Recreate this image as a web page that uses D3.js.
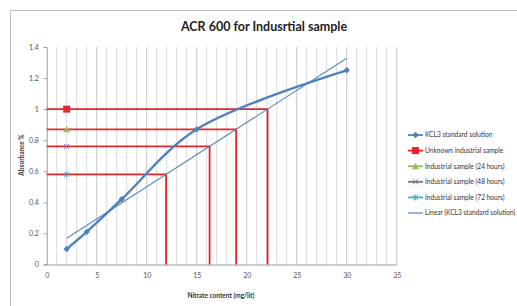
<!DOCTYPE html>
<html>
<head>
<meta charset="utf-8">
<script src="https://cdn.jsdelivr.net/npm/d3@7"></script>
<style>
  body { margin: 0; background: #fff; }
  text { font-family: Lato, "Open Sans", sans-serif; }
</style>
</head>
<body>
<script>
var width = 517,
    height = 306;

// KCL3 standard solution
var kclX = [2, 4, 7.5, 15, 30];
var kclY = [0.1, 0.21, 0.42, 0.87, 1.25];

// samples, all plotted at x = 2
var sampleNames = ["Unknown industrial sample", "Industrial sample (24 hours)",
                   "Industrial sample (48 hours)", "Industrial sample (72 hours)"];
var sampleY = [1.0, 0.87, 0.76, 0.58];
var sampleX = 2;

var xTicks = [0, 5, 10, 15, 20, 25, 30, 35];
var yTicks = [0, 0.2, 0.4, 0.6, 0.8, 1, 1.2, 1.4];

var legendNames = ["KCL3 standard solution", "Unknown industrial sample",
                   "Industrial sample (24 hours)", "Industrial sample (48 hours)",
                   "Industrial sample (72 hours)", "Linear (KCL3 standard solution)"];

var blue = "#4f81bd", red = "#e3262b";
var sampleColors = [red, "#9bbb59", "#8064a2", "#4bacc6"];
var sampleShapes = ["square", "triangle", "x", "star"];

var svg = d3.select("body").append("svg")
    .attr("width", width)
    .attr("height", height);

// outer chart border (left and top visible)
svg.append("rect")
    .attr("x", 10.5).attr("y", 10.5)
    .attr("width", 540).attr("height", 320)
    .attr("fill", "none")
    .attr("stroke", "#bdbdbd");

var x = d3.scaleLinear().domain([0, 35]).range([46.7, 396.7]);
var y = d3.scaleLinear().domain([0, 1.4]).range([264.5, 47]);

// vertical gridlines every unit
svg.append("g").selectAll("line")
    .data(d3.range(1, 36))
  .enter().append("line")
    .attr("x1", function(d) { return x(d); })
    .attr("x2", function(d) { return x(d); })
    .attr("y1", y(1.4)).attr("y2", y(0))
    .attr("stroke", function(d) { return d % 5 == 0 ? "#c8c8c8" : "#dadada"; })
    .attr("stroke-width", 1);

// y axis
var yAxis = svg.append("g")
    .attr("transform", "translate(" + x(0) + ",0)")
    .call(d3.axisLeft(y).tickValues(yTicks).tickSize(3).tickPadding(5)
      .tickFormat(function(d) { return d3.format("")(+d.toFixed(1)); }));
yAxis.select(".domain").attr("stroke", "#9a9a9a");
yAxis.selectAll(".tick line").attr("stroke", "#9a9a9a");
yAxis.selectAll("text").attr("fill", "#555").style("font-size", "7px");

// x axis
var xAxis = svg.append("g")
    .attr("transform", "translate(0," + y(0) + ")")
    .call(d3.axisBottom(x).tickValues(xTicks).tickSize(0).tickPadding(9));
xAxis.select(".domain").attr("stroke", "#9a9a9a");
xAxis.selectAll("text").attr("fill", "#555").style("font-size", "7px");

// linear trendline from the KCL3 data
var n = kclX.length,
    mx = d3.mean(kclX), my = d3.mean(kclY),
    sxy = d3.sum(kclX, function(v, i) { return (v - mx) * (kclY[i] - my); }),
    sxx = d3.sum(kclX, function(v) { return (v - mx) * (v - mx); }),
    slope = sxy / sxx,
    icpt = my - slope * mx;

// red guide lines: across to trendline, then down
sampleY.forEach(function(v) {
  var xv = (v - icpt) / slope;
  svg.append("path")
      .attr("d", "M" + x(0) + "," + y(v) + "H" + x(xv) + "V" + y(0))
      .attr("fill", "none")
      .attr("stroke", red)
      .attr("stroke-width", 1.8);
});

svg.append("line")
    .attr("x1", x(kclX[0])).attr("y1", y(icpt + slope * kclX[0]))
    .attr("x2", x(kclX[n - 1])).attr("y2", y(icpt + slope * kclX[n - 1]))
    .attr("stroke", blue).attr("stroke-width", 1.2).attr("opacity", 0.9);

// KCL3 smoothed line
var kcl = kclX.map(function(v, i) { return [v, kclY[i]]; });
svg.append("path")
    .datum(kcl)
    .attr("d", d3.line()
      .x(function(d) { return x(d[0]); })
      .y(function(d) { return y(d[1]); })
      .curve(d3.curveCatmullRom.alpha(0.5)))
    .attr("fill", "none")
    .attr("stroke", blue)
    .attr("stroke-width", 2.4);

function marker(g, shape, color, cx, cy) {
  if (shape == "diamond") {
    g.append("path").attr("d", "M" + cx + "," + (cy - 3.2) + "l3.2,3.2l-3.2,3.2l-3.2,-3.2z")
      .attr("fill", blue);
  } else if (shape == "square") {
    g.append("rect").attr("x", cx - 3.5).attr("y", cy - 3.5).attr("width", 7).attr("height", 7)
      .attr("fill", color);
  } else if (shape == "triangle") {
    g.append("path").attr("d", "M" + cx + "," + (cy - 3.5) + "l3.5,6.5h-7z").attr("fill", color);
  } else {
    var p = "M" + (cx - 2.5) + "," + (cy - 2.5) + "l5,5M" + (cx + 2.5) + "," + (cy - 2.5) + "l-5,5";
    if (shape == "star") p += "M" + cx + "," + (cy - 3) + "v6";
    g.append("path").attr("d", p).attr("stroke", color).attr("stroke-width", 1).attr("fill", "none");
  }
}

var marks = svg.append("g");
kcl.forEach(function(d) { marker(marks, "diamond", blue, x(d[0]), y(d[1])); });
sampleY.forEach(function(v, i) { marker(marks, sampleShapes[i], sampleColors[i], x(sampleX), y(v)); });

// title
svg.append("text")
    .attr("x", 264).attr("y", 31)
    .attr("text-anchor", "middle")
    .style("font-size", "12.5px")
    .style("font-weight", "bold")
    .attr("fill", "#222")
    .text("ACR 600 for Indusrtial sample");

// axis titles
svg.append("text")
    .attr("x", 221).attr("y", 298)
    .attr("text-anchor", "middle")
    .style("font-size", "6.5px").style("font-weight", "bold")
    .attr("fill", "#333")
    .text("Nitrate content (mg/lit)");

svg.append("text")
    .attr("transform", "translate(24,155) rotate(-90)")
    .attr("text-anchor", "middle")
    .style("font-size", "6.5px").style("font-weight", "bold")
    .attr("fill", "#333")
    .text("Absorbance %");

// legend
var legend = svg.append("g").attr("transform", "translate(408,135)");
legendNames.forEach(function(name, i) {
  var ly = i * 15.6;
  var color = i == 0 || i == 5 ? blue : sampleColors[i - 1];
  legend.append("line")
      .attr("x1", 0).attr("x2", 15).attr("y1", ly).attr("y2", ly)
      .attr("stroke", color).attr("stroke-width", i == 5 ? 1.2 : 1.8);
  if (i == 0) marker(legend, "diamond", blue, 7.5, ly);
  else if (i < 5) marker(legend, sampleShapes[i - 1], color, 7.5, ly);
  legend.append("text")
      .attr("x", 17).attr("y", ly + 2.3)
      .style("font-size", "6.6px")
      .attr("fill", "#333")
      .text(name);
});
</script>
</body>
</html>
